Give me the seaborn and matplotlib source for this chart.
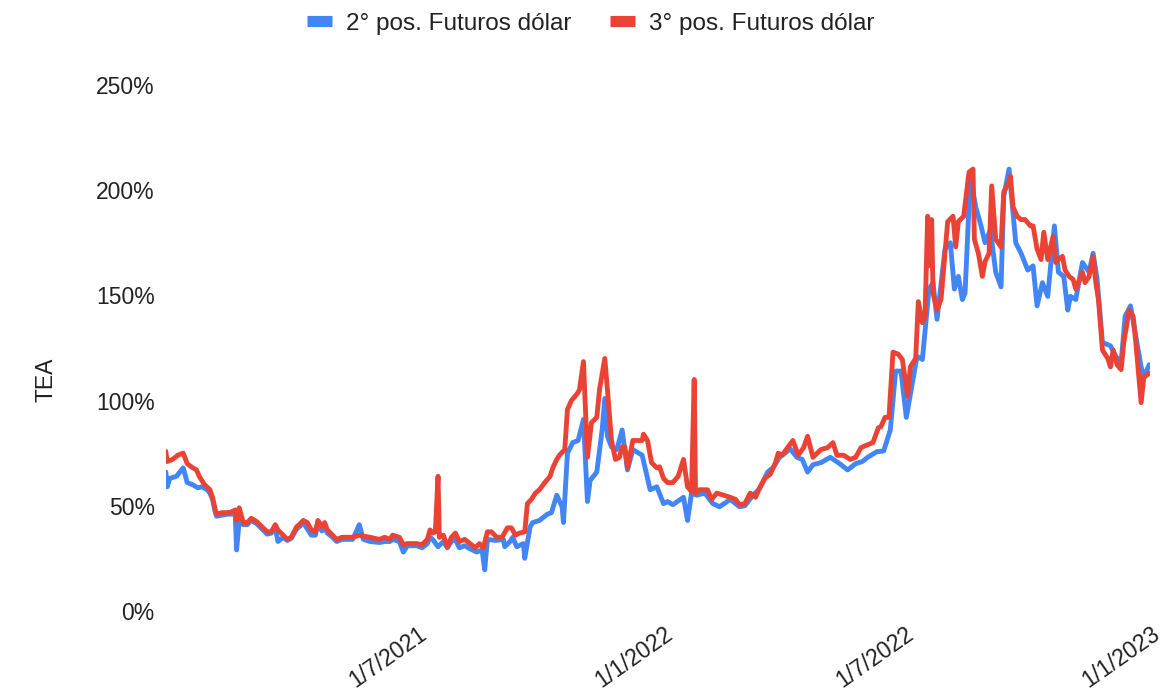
import pandas as pd
import seaborn as sns
import matplotlib.pyplot as plt
from matplotlib.ticker import PercentFormatter
from matplotlib.lines import Line2D

# Datos (dias desde 1/1/2021, TEA en %)
inicio = pd.Timestamp("2021-01-01")

dias_2pos = [-8, -7, -5, 0, 5, 8, 12, 16, 19, 23, 25, 27, 29, 30, 34, 38, 41, 44, 45, 47,
             50, 53, 56, 60, 64, 68, 71, 74, 76, 80, 83, 86, 90, 92, 95, 98, 101, 104, 106, 109,
             111, 113, 117, 120, 124, 128, 132, 137, 140, 145, 152, 156, 160, 162, 167, 170, 173, 180, 184, 188,
             190, 192, 196, 200, 203, 206, 209, 212, 216, 220, 225, 229, 231, 233, 239, 245, 246, 250, 252, 255,
             260, 261, 265, 267, 272, 278, 281, 285, 289, 290, 293, 297, 301, 305, 308, 310, 315, 319, 321, 323,
             326, 330, 334, 338, 342, 349, 355, 360, 365, 368, 372, 380, 383, 386, 390, 396, 402, 407, 415, 422,
             426, 432, 437, 443, 447, 452, 460, 465, 469, 473, 477, 483, 490, 497, 503, 509, 514, 518, 525, 530,
             535, 539, 543, 547, 552, 555, 559, 560, 564, 567, 570, 576, 580, 583, 586, 589, 591, 595, 599, 603,
             606, 610, 614, 618, 620, 624, 629, 633, 638, 642, 645, 649, 653, 658, 661, 665, 668, 670, 674, 679,
             684, 687, 690, 694, 700, 704, 708, 711, 715, 719, 723, 725, 729]
tea_2pos = [66, 59, 63, 64, 68, 61, 60, 58.5, 59, 57.6, 56, 53, 47, 45, 45.5, 46, 46, 46, 29, 43,
            41, 41, 43, 41.5, 39, 36.5, 37, 40, 33, 35, 33.5, 34.5, 39, 40, 42, 39, 36, 36, 41, 38,
            40, 37, 35, 33, 34, 34, 34, 41, 34, 33, 32.5, 33, 33, 34, 33, 28, 31, 31, 30, 32,
            35, 34, 30.5, 33, 30, 33, 34, 30, 31, 29.5, 28, 29, 19.5, 34, 33.5, 34, 30.5, 33, 35, 30.5,
            32, 25, 40, 42, 43, 46, 46.7, 55, 49.5, 42, 75, 80, 81, 91, 52, 62, 66, 86, 101, 83,
            78, 76.7, 86, 67, 76.7, 74, 57.6, 59, 51, 52, 50.5, 54, 43, 56, 55, 56, 51, 49.5, 53, 49.5,
            50, 55, 58, 66, 68, 73, 77, 73, 72, 66, 69.5, 70.5, 73, 70, 67, 70, 71, 73, 75.7, 76,
            86, 114, 114, 92, 110, 121, 119.5, 126, 153, 156, 138.6, 172, 175, 153, 159, 148, 151, 206.7, 192, 183,
            175, 181, 161, 154, 197, 210, 175, 170, 162, 164, 145, 156, 149.5, 183, 161, 159, 143, 149.5, 148, 165.6,
            161, 170, 157.6, 127.6, 126, 121, 118, 140, 145, 130.5, 116, 111, 117]

dias_3pos = [-8, -7, -3, 1, 5, 8, 11, 15, 17, 21, 25, 27, 29, 30, 34, 38, 41, 44, 45, 47,
             50, 53, 56, 60, 64, 68, 71, 74, 76, 80, 83, 86, 90, 92, 95, 98, 101, 104, 106, 109,
             111, 113, 117, 120, 124, 128, 132, 137, 140, 145, 152, 156, 160, 162, 167, 170, 173, 180, 184, 188,
             190, 192, 194, 196, 197, 200, 203, 206, 209, 212, 216, 220, 224, 227, 230, 233, 236, 240, 244, 248,
             251, 254, 257, 261, 263, 266, 269, 272, 276, 280, 282, 285, 287, 291, 293, 296, 300, 302, 305, 308,
             311, 315, 317, 321, 323, 326, 329, 332, 334, 336, 338, 342, 345, 349, 350, 353, 356, 360, 362, 365,
             368, 372, 376, 380, 383, 386, 388, 389, 392, 398, 401, 405, 410, 415, 419, 422, 426, 430, 434, 437,
             441, 445, 449, 451, 454, 458, 462, 466, 470, 473, 477, 483, 488, 492, 495, 500, 505, 509, 513, 518,
             522, 526, 528, 531, 534, 537, 541, 544, 548, 550, 554, 556, 559, 561, 563, 564, 566, 567, 570, 573,
             578, 582, 584, 586, 590, 594, 597, 598, 601, 604, 606, 609, 611, 614, 618, 620, 624, 625, 627, 630,
             633, 636, 640, 642, 645, 648, 650, 653, 657, 659, 661, 664, 666, 669, 672, 674, 676, 679, 681, 684,
             687, 689, 691, 694, 698, 700, 702, 705, 708, 710, 714, 717, 719, 721, 723, 725, 729]
tea_3pos = [75.8, 71, 72, 74, 75, 70, 68.5, 67, 64, 60, 57.6, 54, 48, 46, 46.7, 46.7, 47, 48, 43, 49,
            42, 42, 44, 42.5, 40, 37.6, 37.6, 41, 38.5, 36, 34, 35, 40, 41, 43, 42, 38.5, 37.6, 43, 40,
            42, 38.5, 36, 34, 35, 35, 35, 36, 35.5, 35, 34, 35, 34, 36, 35, 31.5, 32, 32, 31.5, 34,
            38.5, 37, 37.6, 64, 35, 36, 30.5, 35, 37, 33, 34, 32, 30, 32, 30, 37.6, 37.6, 35, 35, 39.5,
            39.5, 36, 37, 37.6, 51, 53, 56, 57.6, 61, 64, 68, 72, 74, 76.7, 95.7, 100, 103, 105, 118.5, 73,
            89.5, 92, 105, 120, 105, 81, 72, 73, 78, 78, 68, 81, 81, 81, 84, 81, 70.5, 68, 68.5, 63,
            61, 61, 64, 72, 59, 56.7, 110, 56, 57.6, 57.6, 53, 56, 55, 54, 53, 50.5, 51, 56, 54, 58.5,
            63, 65, 70.5, 75, 74, 77.6, 81, 74, 77.6, 83, 73, 76.7, 77.6, 80, 74, 74, 72, 73, 77.6, 79,
            80, 87, 87.6, 92, 92, 123, 122, 119.5, 102, 116, 120, 147, 137, 140, 187.6, 164, 186, 151, 143, 148,
            185, 187.6, 173, 185, 187.6, 208.5, 210, 176.6, 170, 159, 166, 170, 202, 176.6, 173, 199, 204, 206.7, 192, 187.6,
            186, 186, 183, 183, 172, 167, 180, 167, 178, 165.6, 167, 168.5, 162, 159, 157.6, 153, 156, 161, 156, 159,
            168.5, 156, 148, 124, 120, 116, 124, 117, 114.7, 127.6, 143, 140, 127.6, 113, 99, 111, 113]

series = ["2° pos. Futuros dólar", "3° pos. Futuros dólar"]
colores = ["#4285F4", "#EA4335"]
ticks_x = ["2021-07-01", "2022-01-01", "2022-07-01", "2023-01-01"]
etiquetas_x = ["1/7/2021", "1/1/2022", "1/7/2022", "1/1/2023"]

df = pd.concat([
    pd.DataFrame({"fecha": inicio + pd.to_timedelta(dias_2pos, unit="D"), "tea": tea_2pos, "serie": series[0]}),
    pd.DataFrame({"fecha": inicio + pd.to_timedelta(dias_3pos, unit="D"), "tea": tea_3pos, "serie": series[1]}),
])

sns.set_style("white")
plt.rcParams["font.family"] = ["Liberation Sans", "DejaVu Sans"]

fig = plt.figure(figsize=(11.68, 6.99), dpi=100)
ax = fig.add_axes([0.142, 0.126, 0.843, 0.7525])

sns.lineplot(data=df, x="fecha", y="tea", hue="serie", hue_order=series,
             palette=dict(zip(series, colores)), linewidth=3.5, legend=False, ax=ax)

ax.set_ylim(0, 250)
ax.set_yticks([0, 50, 100, 150, 200, 250])
ax.yaxis.set_major_formatter(PercentFormatter(xmax=100, decimals=0))
ax.set_xlim(df["fecha"].min(), pd.Timestamp("2023-01-01"))
ax.set_xticks(pd.to_datetime(ticks_x))
ax.set_xticklabels(etiquetas_x, rotation=35, ha="right", rotation_mode="anchor")
ax.tick_params(axis="both", length=0, labelsize=16.5, colors="#222222")
ax.tick_params(axis="y", pad=8)
ax.tick_params(axis="x", pad=8)
ax.set_xlabel("")
ax.set_ylabel("")
sns.despine(ax=ax, left=True, bottom=True)

fig.text(0.039, 0.456, "TEA", rotation=90, ha="center", va="center", fontsize=16.5, color="#222222")

handles = [Line2D([], [], color=c, linewidth=8, solid_capstyle="butt") for c in colores]
fig.legend(handles, series, loc="center", bbox_to_anchor=(0.506, 0.966), ncol=2, frameon=False,
           fontsize=17.5, handlelength=1.0, handletextpad=0.6, columnspacing=1.6, labelcolor="#222222")

plt.savefig("out.png", dpi=100)
